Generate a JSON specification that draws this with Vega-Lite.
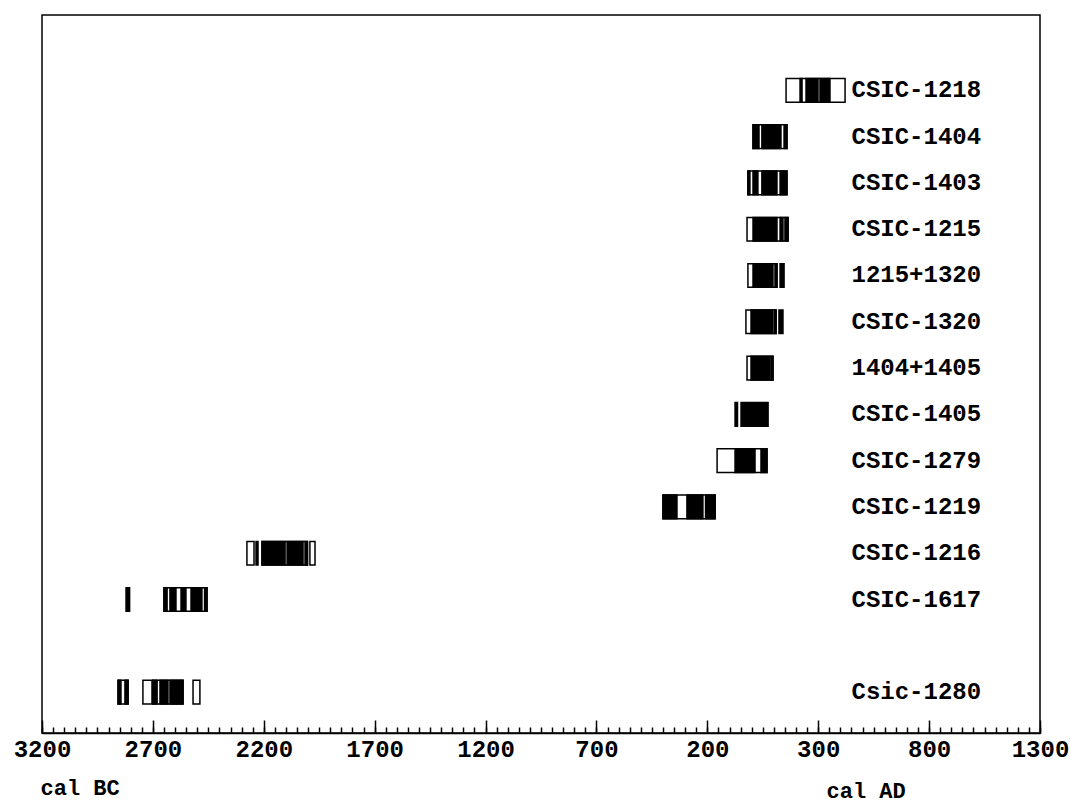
{
  "$schema": "https://vega.github.io/schema/vega-lite/v6.json",
  "autosize": {"type": "none"},
  "padding": {"left": 42, "top": 15, "right": 30, "bottom": 72},
  "width": 998,
  "height": 718,
  "background": "white",
  "config": {
    "view": {"stroke": "black", "strokeWidth": 1.5},
    "font": "Liberation Mono"
  },
  "data": {
    "values": [
      {"label": "CSIC-1218", "start": 155, "end": 421, "kind": "box"},
      {"label": "CSIC-1218", "start": 218, "end": 227, "kind": "peak"},
      {"label": "CSIC-1218", "start": 245, "end": 299, "kind": "peak"},
      {"label": "CSIC-1218", "start": 308, "end": 353, "kind": "peak"},
      {"label": "CSIC-1404", "start": 6, "end": 159, "kind": "box"},
      {"label": "CSIC-1404", "start": 6, "end": 33, "kind": "peak"},
      {"label": "CSIC-1404", "start": 46, "end": 132, "kind": "peak"},
      {"label": "CSIC-1404", "start": 146, "end": 159, "kind": "peak"},
      {"label": "CSIC-1403", "start": -17, "end": 159, "kind": "box"},
      {"label": "CSIC-1403", "start": -17, "end": -8, "kind": "peak"},
      {"label": "CSIC-1403", "start": 6, "end": 28, "kind": "peak"},
      {"label": "CSIC-1403", "start": 46, "end": 114, "kind": "peak"},
      {"label": "CSIC-1403", "start": 128, "end": 159, "kind": "peak"},
      {"label": "CSIC-1215", "start": -21, "end": 164, "kind": "box"},
      {"label": "CSIC-1215", "start": 6, "end": 114, "kind": "peak"},
      {"label": "CSIC-1215", "start": 128, "end": 141, "kind": "peak"},
      {"label": "CSIC-1215", "start": 150, "end": 164, "kind": "peak"},
      {"label": "1215+1320", "start": -17, "end": 114, "kind": "box"},
      {"label": "1215+1320", "start": 6, "end": 96, "kind": "peak"},
      {"label": "1215+1320", "start": 105, "end": 114, "kind": "peak"},
      {"label": "1215+1320", "start": 128, "end": 146, "kind": "peak"},
      {"label": "CSIC-1320", "start": -26, "end": 110, "kind": "box"},
      {"label": "CSIC-1320", "start": -3, "end": 96, "kind": "peak"},
      {"label": "CSIC-1320", "start": 103, "end": 110, "kind": "peak"},
      {"label": "CSIC-1320", "start": 123, "end": 141, "kind": "peak"},
      {"label": "1404+1405", "start": -21, "end": 96, "kind": "box"},
      {"label": "1404+1405", "start": -3, "end": 83, "kind": "peak"},
      {"label": "1404+1405", "start": 89, "end": 96, "kind": "peak"},
      {"label": "CSIC-1405", "start": -75, "end": -64, "kind": "peak"},
      {"label": "CSIC-1405", "start": -48, "end": 74, "kind": "peak"},
      {"label": "CSIC-1279", "start": -156, "end": 69, "kind": "box"},
      {"label": "CSIC-1279", "start": -75, "end": 15, "kind": "peak"},
      {"label": "CSIC-1279", "start": 42, "end": 69, "kind": "peak"},
      {"label": "CSIC-1219", "start": -400, "end": -165, "kind": "box"},
      {"label": "CSIC-1219", "start": -400, "end": -337, "kind": "peak"},
      {"label": "CSIC-1219", "start": -292, "end": -220, "kind": "peak"},
      {"label": "CSIC-1219", "start": -208, "end": -165, "kind": "peak"},
      {"label": "CSIC-1216", "start": -2276, "end": -2244, "kind": "box"},
      {"label": "CSIC-1216", "start": -2208, "end": -2003, "kind": "box"},
      {"label": "CSIC-1216", "start": -1992, "end": -1969, "kind": "box"},
      {"label": "CSIC-1216", "start": -2235, "end": -2226, "kind": "peak"},
      {"label": "CSIC-1216", "start": -2208, "end": -2104, "kind": "peak"},
      {"label": "CSIC-1216", "start": -2095, "end": -2023, "kind": "peak"},
      {"label": "CSIC-1216", "start": -2014, "end": -2003, "kind": "peak"},
      {"label": "CSIC-1617", "start": -2650, "end": -2456, "kind": "box"},
      {"label": "CSIC-1617", "start": -2821, "end": -2805, "kind": "peak"},
      {"label": "CSIC-1617", "start": -2650, "end": -2636, "kind": "peak"},
      {"label": "CSIC-1617", "start": -2623, "end": -2596, "kind": "peak"},
      {"label": "CSIC-1617", "start": -2573, "end": -2551, "kind": "peak"},
      {"label": "CSIC-1617", "start": -2528, "end": -2479, "kind": "peak"},
      {"label": "CSIC-1617", "start": -2467, "end": -2456, "kind": "peak"},
      {"label": "Csic-1280", "start": -2857, "end": -2812, "kind": "box"},
      {"label": "Csic-1280", "start": -2745, "end": -2704, "kind": "box"},
      {"label": "Csic-1280", "start": -2700, "end": -2564, "kind": "box"},
      {"label": "Csic-1280", "start": -2519, "end": -2488, "kind": "box"},
      {"label": "Csic-1280", "start": -2857, "end": -2844, "kind": "peak"},
      {"label": "Csic-1280", "start": -2826, "end": -2812, "kind": "peak"},
      {"label": "Csic-1280", "start": -2700, "end": -2681, "kind": "peak"},
      {"label": "Csic-1280", "start": -2668, "end": -2632, "kind": "peak"},
      {"label": "Csic-1280", "start": -2623, "end": -2564, "kind": "peak"}
    ]
  },
  "layer": [
    {
      "transform": [{"filter": "datum.kind == 'box'"}],
      "mark": {"type": "rect", "fill": "white", "stroke": "black", "strokeWidth": 1.5},
      "encoding": {
        "x": {
          "field": "start", "type": "quantitative",
          "scale": {"domain": [-3200, 1300], "nice": false, "zero": false},
          "axis": {
            "orient": "bottom",
            "values": [-3200, -2700, -2200, -1700, -1200, -700, -200, 300, 800, 1300],
            "labelExpr": "'' + abs(datum.value)",
            "grid": false,
            "domain": true, "domainColor": "black", "domainWidth": 1.5,
            "ticks": true, "tickSize": -13, "tickColor": "black", "tickWidth": 1.5,
            "labelFont": "Liberation Mono", "labelFontWeight": "bold", "labelFontSize": 24,
            "labelColor": "black", "labelPadding": 17, "labelFlush": false, "labelOverlap": false,
            "labelBaseline": "top",
            "title": "cal BC",
            "titleFont": "Liberation Mono", "titleFontWeight": "bold", "titleFontSize": 22,
            "titleColor": "black", "titleAlign": "left", "titleAnchor": "start",
            "titleX": -2, "titleY": 61, "titleBaseline": "alphabetic"
          }
        },
        "x2": {"field": "end"},
        "y": {
          "field": "label", "type": "nominal",
          "scale": {
            "domain": ["CSIC-1218", "CSIC-1404", "CSIC-1403", "CSIC-1215", "1215+1320", "CSIC-1320", "1404+1405", "CSIC-1405", "CSIC-1279", "CSIC-1219", "CSIC-1216", "CSIC-1617", " ", "Csic-1280"],
            "paddingInner": 0.489, "paddingOuter": 1.222, "align": 0.686
          },
          "axis": {
            "orient": "right", "offset": -189, "domain": false, "ticks": false, "grid": false,
            "labelAlign": "left", "labelPadding": 0, "labelBaseline": "middle",
            "labelFont": "Liberation Mono", "labelFontWeight": "bold", "labelFontSize": 24,
            "labelColor": "black", "title": null
          }
        }
      }
    },
    {
      "transform": [{"filter": "datum.kind == 'peak'"}],
      "mark": {"type": "rect", "fill": "black", "stroke": "black", "strokeWidth": 1.5},
      "encoding": {
        "x": {
          "field": "start", "type": "quantitative",
          "axis": {
            "orient": "bottom",
            "values": [-3200,-3150,-3100,-3050,-3000,-2950,-2900,-2850,-2800,-2750,-2700,-2650,-2600,-2550,-2500,-2450,-2400,-2350,-2300,-2250,-2200,-2150,-2100,-2050,-2000,-1950,-1900,-1850,-1800,-1750,-1700,-1650,-1600,-1550,-1500,-1450,-1400,-1350,-1300,-1250,-1200,-1150,-1100,-1050,-1000,-950,-900,-850,-800,-750,-700,-650,-600,-550,-500,-450,-400,-350,-300,-250,-200,-150,-100,-50,0,50,100,150,200,250,300,350,400,450,500,550,600,650,700,750,800,850,900,950,1000,1050,1100,1150,1200,1250,1300],
            "labels": false, "grid": false, "domain": false,
            "ticks": true, "tickSize": -6, "tickColor": "black", "tickWidth": 1.5,
            "title": "cal AD",
            "titleFont": "Liberation Mono", "titleFontWeight": "bold", "titleFontSize": 22,
            "titleColor": "black", "titleAlign": "left", "titleAnchor": "start",
            "titleX": 784, "titleY": 64, "titleBaseline": "alphabetic"
          }
        },
        "x2": {"field": "end"},
        "y": {"field": "label", "type": "nominal"}
      }
    }
  ],
  "resolve": {"axis": {"x": "independent"}}
}
